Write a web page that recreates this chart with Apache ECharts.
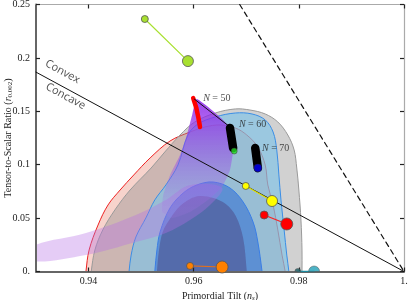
<!DOCTYPE html>
<html><head><meta charset="utf-8">
<script src="https://cdn.jsdelivr.net/npm/echarts@6/dist/echarts.min.js"></script>
<style>html,body{margin:0;padding:0;background:#fff}#c{width:409px;height:300px}</style>
</head><body><div id="c"></div>
<script>
// ---- tick values / labels ----
const xTicks = [0.94, 0.96, 0.98, 1.0];
const xTickLabels = ['0.94', '0.96', '0.98', '1.'];
const yTicks = [0, 0.05, 0.1, 0.15, 0.2, 0.25];
const yTickLabels = ['0.', '0.05', '0.1', '0.15', '0.2', '0.25'];

// ---- contour regions [ns, r] ----
const red95 = [[0.9395,-0.003],[0.9395,0],[0.9401,0.0201],[0.9418,0.0435],[0.9437,0.0623],[0.9460,0.0763],[0.9486,0.0904],[0.9517,0.1063],[0.9555,0.1222],[0.9593,0.1306],[0.9621,0.1353],[0.9650,0.1372],[0.9679,0.1344],[0.9701,0.1278],[0.9722,0.1166],[0.9736,0.0997],[0.9741,0.0810],[0.9751,0.0623],[0.9760,0.0389],[0.9768,0.0154],[0.9774,0],[0.9774,-0.003]];
const gray95 = [[0.9405,-0.003],[0.9405,0],[0.9412,0.0201],[0.9427,0.0389],[0.9450,0.0576],[0.9479,0.0763],[0.9519,0.0969],[0.9545,0.1119],[0.9574,0.1278],[0.9602,0.1400],[0.9641,0.1484],[0.9679,0.1522],[0.9707,0.1512],[0.9736,0.1475],[0.9760,0.1400],[0.9779,0.1278],[0.9791,0.1138],[0.9796,0.0969],[0.9800,0.0763],[0.9804,0.0482],[0.9806,0.0201],[0.9806,0],[0.9806,-0.003]];
const blue95 = [[0.9477,-0.003],[0.9477,0],[0.9481,0.0154],[0.9490,0.0323],[0.9509,0.0501],[0.9526,0.0670],[0.9547,0.0810],[0.9570,0.0997],[0.9589,0.1278],[0.9608,0.1381],[0.9641,0.1447],[0.9679,0.1484],[0.9711,0.1475],[0.9736,0.1419],[0.9751,0.1306],[0.9758,0.1138],[0.9762,0.0904],[0.9766,0.0670],[0.9772,0.0389],[0.9777,0.0154],[0.9781,0],[0.9781,-0.003]];
const blue68 = [[0.9526,-0.003],[0.9526,0],[0.9530,0.0201],[0.9536,0.0370],[0.9555,0.0595],[0.9580,0.0735],[0.9606,0.0810],[0.9637,0.0838],[0.9669,0.0782],[0.9694,0.0651],[0.9713,0.0463],[0.9722,0.0276],[0.9730,0],[0.9730,-0.003]];
const gray68 = [[0.9530,-0.003],[0.9530,0],[0.9534,0.0201],[0.9541,0.0370],[0.9556,0.0501],[0.9574,0.0613],[0.9593,0.0679],[0.9612,0.0707],[0.9637,0.0688],[0.9661,0.0632],[0.9680,0.0520],[0.9694,0.0314],[0.9701,0],[0.9701,-0.003]];
const naturalBand = [[0.929,0.0098],[0.9395,0.0154],[0.9490,0.0276],[0.9547,0.0360],[0.9593,0.0482],[0.9631,0.0623],[0.9654,0.0782],[0.9593,0.0810],[0.9547,0.0670],[0.9490,0.0529],[0.9395,0.0360],[0.929,0.0229]];
const wedge = [[0.9606,0.1615],[0.9669,0.1353],[0.9675,0.1138],[0.9669,0.0950],[0.9654,0.0791],[0.9627,0.0670],[0.9593,0.0557],[0.9559,0.0501],[0.9540,0.0557],[0.9542,0.0716],[0.9555,0.0904],[0.9574,0.1091],[0.9587,0.1278],[0.9597,0.1465]];

// ---- model lines ----
const convexLine = [[0.93, 0.18667], [1.0, 0]];
const dashedLine = [[0.96875, 0.25], [1.0, 0]];
const redSegment = [[0.9599,0.1624],[0.9605,0.1531],[0.9609,0.1437],[0.9612,0.1353]];
const blackThin = [[0.9601,0.1615],[0.9669,0.1353]];
const blobN60 = [[0.9669,0.1344],[0.9675,0.1156]];
const blobN70 = [[0.9717,0.1156],[0.9722,0.0969]];
const greenPts = [[0.9507,0.2364],[0.9589,0.1970]];
const yellowPts = [[0.9699,0.0801],[0.9749,0.0660]];
const redPts = [[0.9734,0.0529],[0.9777,0.0445]];
const orangePts = [[0.9593,0.0052],[0.9654,0.0042]];
const tealPts = [[0.9798,0],[0.9829,0]];
const greenEnd = [[0.9677,0.1128]];
const blueEnd = [[0.9722,0.0969]];
const nLabels = [{v:[0.9618,0.1625], t:'50'}, {v:[0.9686,0.1381], t:'60'}, {v:[0.9730,0.1156], t:'70'}];
const regionLabels = [{v:[0.93504,0.1870], t:'Convex'}, {v:[0.93561,0.1640], t:'Concave'}];

const serif = 'Liberation Serif';

function poly(pts, fill, stroke, lw, z, sm) {
  return {
    type: 'custom', z: z, clip: true, silent: true,
    data: pts, encode: {x: 0, y: 1},
    renderItem: function (params, api) {
      if (params.dataIndex !== 0) return null;
      const p = pts.map(d => api.coord(d));
      return {type: 'polygon', shape: {points: p, smooth: sm == null ? 0.35 : sm},
        style: {fill: fill, stroke: stroke, lineWidth: lw}};
    }
  };
}
function line(pts, color, width, z, type) {
  return {type: 'line', data: pts, showSymbol: false, silent: true, z: z, clip: true,
    lineStyle: {color: color, width: width, cap: 'round', type: type || 'solid'}};
}
function pair(pts, color, lineColor, sizes) {
  return [
    line(pts, lineColor, 1.2, 10),
    {type: 'scatter', data: pts, silent: true, z: 11,
      symbolSize: (v, p) => sizes[p.dataIndex],
      itemStyle: {color: color, borderColor: '#555', borderWidth: 0.8, opacity: 1}}
  ];
}

const chart = echarts.init(document.getElementById('c'), null, {renderer: 'canvas'});
const axisCommon = {min: 0.93, max: 1.0};
chart.setOption({
  animation: false,
  grid: {left: 36, right: 5, top: 4.5, bottom: 28.5, containLabel: false, outerBoundsMode: 'none'},
  xAxis: [
    Object.assign({type: 'value', position: 'bottom', z: 5,
      axisLine: {onZero: false, lineStyle: {color: '#666', width: 2}},
      axisTick: {inside: true, length: 4, customValues: xTicks, lineStyle: {color: '#222', width: 1.2}},
      splitLine: {show: false},
      axisLabel: {customValues: xTicks, margin: 5, color: '#222', fontFamily: serif, fontSize: 10,
        formatter: v => xTickLabels[xTicks.findIndex(t => Math.abs(t - v) < 1e-9)]},
      name: '{t|Primordial Tilt (}{i|n}{s|s}{t|)}', nameLocation: 'middle', nameGap: 19,
      nameMoveOverlap: false,
      nameTextStyle: {rich: {
        t: {fontFamily: serif, fontSize: 10, color: '#222'},
        i: {fontFamily: serif, fontStyle: 'italic', fontSize: 10, color: '#222'},
        s: {fontFamily: serif, fontStyle: 'italic', fontSize: 7, color: '#222', padding: [4, 0, 0, 0]}
      }}
    }, axisCommon),
    Object.assign({type: 'value', position: 'top', z: 5,
      axisLine: {onZero: false, lineStyle: {color: '#aaa', width: 1.2}},
      axisTick: {inside: true, length: 4, customValues: xTicks, lineStyle: {color: '#222', width: 1.2}},
      splitLine: {show: false}, axisLabel: {show: false}
    }, axisCommon)
  ],
  yAxis: [
    {type: 'value', position: 'left', min: 0, max: 0.25, interval: 0.05, z: 5,
      axisLine: {show: true, onZero: false, lineStyle: {color: '#666', width: 2}},
      axisTick: {show: true, inside: true, length: 4, lineStyle: {color: '#222', width: 1.2}},
      splitLine: {show: false},
      axisLabel: {margin: 6, color: '#222', fontFamily: serif, fontSize: 10,
        formatter: v => yTickLabels[yTicks.findIndex(t => Math.abs(t - v) < 1e-9)]},
      name: '{t|Tensor-to-Scalar Ratio (}{i|r}{s|0.002}{t|)}', nameLocation: 'middle', nameGap: 22,
      nameMoveOverlap: false,
      nameTextStyle: {rich: {
        t: {fontFamily: serif, fontSize: 10, color: '#222'},
        i: {fontFamily: serif, fontStyle: 'italic', fontSize: 10, color: '#222'},
        s: {fontFamily: serif, fontSize: 7, color: '#222', padding: [4, 0, 0, 0]}
      }}
    },
    {type: 'value', position: 'right', min: 0, max: 0.25, interval: 0.05, z: 5,
      axisLine: {show: true, onZero: false, lineStyle: {color: '#aaa', width: 1.2}},
      axisTick: {show: true, inside: true, length: 4, lineStyle: {color: '#222', width: 1.2}},
      splitLine: {show: false}, axisLabel: {show: false}
    }
  ],
  series: [
    poly(red95, 'rgba(235,140,120,0.38)', '#ee2222', 1, 1),
    poly(gray95, 'rgba(140,140,140,0.40)', '#9a9a9a', 1, 1),
    poly(blue95, 'rgba(120,195,235,0.60)', '#3a8ee6', 1, 1),
    poly(blue68, 'rgba(50,110,210,0.58)', '#3a7ee6', 1, 1),
    poly(gray68, 'rgba(70,50,110,0.40)', 'rgba(0,0,0,0)', 0, 1),
    poly(naturalBand, 'rgba(180,110,230,0.35)', 'rgba(0,0,0,0)', 0, 2),
    poly(wedge, {type: 'linear', x: 0, y: 0, x2: 0, y2: 1, colorStops: [
      {offset: 0, color: 'rgba(140,30,235,0.85)'},
      {offset: 0.45, color: 'rgba(150,70,230,0.55)'},
      {offset: 1, color: 'rgba(170,120,230,0.15)'}]}, 'rgba(0,0,0,0)', 0, 2, 0.15),
    line(convexLine, '#111', 1, 8),
    line(dashedLine, '#111', 1.2, 8, [5, 4]),
    line(redSegment, '#ff0000', 4.5, 9),
    line(blackThin, '#111', 1, 9),
    line(blobN60, '#000', 8.5, 9),
    line(blobN70, '#000', 8.5, 9),
    {type: 'scatter', data: greenEnd, z: 11, silent: true, symbolSize: 6,
      itemStyle: {color: '#22dd22', borderColor: '#333', borderWidth: 0.6}},
    {type: 'scatter', data: blueEnd, z: 11, silent: true, symbolSize: 8,
      itemStyle: {color: '#0000ff', borderColor: '#222', borderWidth: 0.6}},
    ...pair(greenPts, '#a8e030', '#a8e030', [7, 11]),
    ...pair(yellowPts, '#ffff00', '#e0e000', [7, 11]),
    ...pair(redPts, '#ff0000', '#ff2020', [8, 12]),
    ...pair(orangePts, '#ff8000', '#e07020', [7, 12]),
    line(tealPts, '#1a8aa0', 1.5, 10),
    {type: 'scatter', data: tealPts, z: 11, silent: true,
      symbol: 'path://M0,10A10,10,0,0,1,20,10Z',
      symbolSize: (v, p) => p.dataIndex === 0 ? [6, 3] : [11, 5.5],
      symbolOffset: [0, '-50%'],
      itemStyle: {color: (p) => p.dataIndex === 0 ? '#1a5a60' : '#20a0b8', borderColor: '#555', borderWidth: 0.6}},
    {type: 'scatter', data: nLabels.map(d => d.v), z: 12, silent: true, symbolSize: 0,
      label: {show: true, position: 'right', distance: 0,
        formatter: p => '{i|N} = ' + nLabels[p.dataIndex].t,
        fontFamily: serif, fontSize: 10, color: '#222',
        rich: {i: {fontFamily: serif, fontStyle: 'italic', fontSize: 10, color: '#222'}}}},
    {type: 'scatter', data: regionLabels.map(d => d.v), z: 12, silent: true, symbolSize: 0,
      label: {show: true, position: 'inside', rotate: -28.4,
        formatter: p => regionLabels[p.dataIndex].t,
        fontFamily: 'Open Sans', fontSize: 11, color: '#222'}}
  ]
});
</script></body></html>
